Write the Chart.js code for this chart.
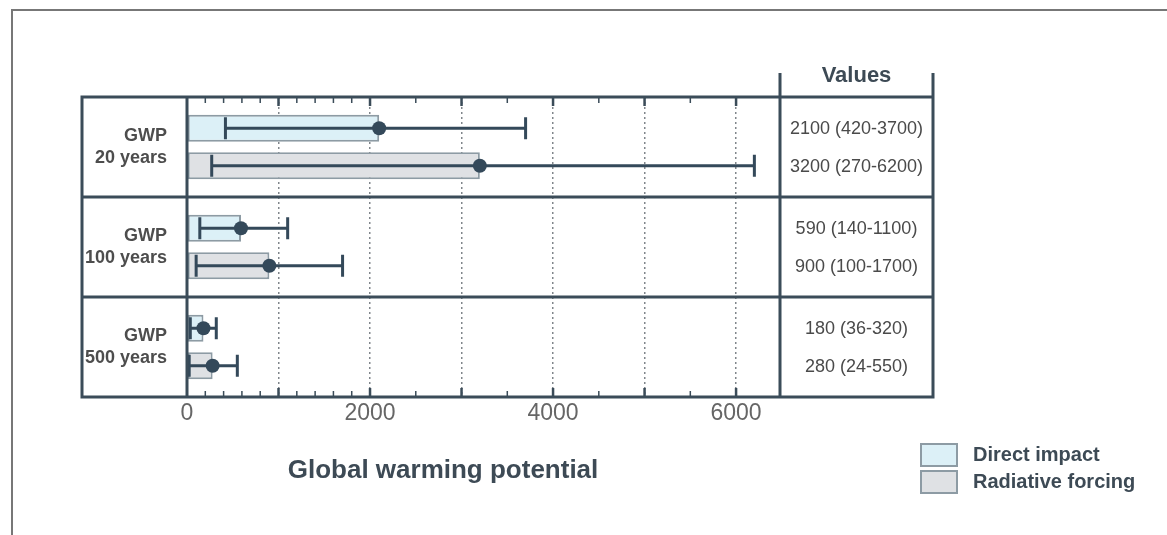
<!DOCTYPE html>
<html lang="en">
<head>
  <meta charset="UTF-8" />
  <title>Global warming potential</title>
  <script src="https://cdn.jsdelivr.net/npm/chart.js"></script>
  <style>
    html, body { margin: 0; padding: 0; background: #fff; }
    #wrap { width: 1167px; height: 535px; }
  </style>
</head>
<body>
  <div id="wrap"><canvas id="gwpChart" width="1167" height="535"></canvas></div>

  <script>
    const categories = [['GWP', '20 years'], ['GWP', '100 years'], ['GWP', '500 years']];
    const directValues = [2100, 590, 180];
    const directLow = [420, 140, 36];
    const directHigh = [3700, 1100, 320];
    const forcingValues = [3200, 900, 280];
    const forcingLow = [270, 100, 24];
    const forcingHigh = [6200, 1700, 550];
    const xTickLabels = [0, 2000, 4000, 6000];
    const majorTicks = [0, 1000, 2000, 3000, 4000, 5000, 6000];
    const minorTicks = [200, 400, 600, 800, 1200, 1400, 1600, 1800, 2500, 3500, 4500, 5500];

    const FONT = "'Liberation Sans', Arial, sans-serif";
    const ink = '#34495a';
    const lineCol = '#3b4c59';

    // error bars + dots on top of the bars
    const errorBars = {
      id: 'errorBars',
      afterDatasetsDraw(chart) {
        const { ctx, scales: { x } } = chart;
        chart.data.datasets.forEach((ds, i) => {
          chart.getDatasetMeta(i).data.forEach((bar, j) => {
            const y = bar.y;
            const x0 = x.getPixelForValue(ds.low[j]);
            const x1 = x.getPixelForValue(ds.high[j]);
            ctx.save();
            ctx.strokeStyle = ink;
            ctx.lineWidth = 3;
            ctx.beginPath();
            ctx.moveTo(x0, y); ctx.lineTo(x1, y);
            ctx.moveTo(x0, y - 11); ctx.lineTo(x0, y + 11);
            ctx.moveTo(x1, y - 11); ctx.lineTo(x1, y + 11);
            ctx.stroke();
            ctx.fillStyle = ink;
            ctx.beginPath();
            ctx.arc(bar.x, y, 7, 0, Math.PI * 2);
            ctx.fill();
            ctx.restore();
          });
        });
      }
    };

    // table frame, values column, legend, axis title
    const tableDecor = {
      id: 'tableDecor',
      afterDraw(chart) {
        const { ctx, chartArea: a, scales: { x, y } } = chart;
        const left = a.left - 105;
        const valRight = a.right + 153;
        const valMid = (a.right + valRight) / 2;
        ctx.save();

        // page frame
        ctx.strokeStyle = '#777';
        ctx.lineWidth = 2;
        ctx.beginPath();
        ctx.moveTo(12, 535); ctx.lineTo(12, 10); ctx.lineTo(1167, 10);
        ctx.stroke();

        // minor / major ticks along top and bottom edges
        ctx.strokeStyle = lineCol;
        ctx.lineWidth = 1.5;
        ctx.beginPath();
        minorTicks.forEach(v => {
          const px = x.getPixelForValue(v);
          ctx.moveTo(px, a.bottom); ctx.lineTo(px, a.bottom - 6);
          ctx.moveTo(px, a.top); ctx.lineTo(px, a.top + 6);
        });
        ctx.stroke();
        ctx.lineWidth = 2.5;
        ctx.beginPath();
        majorTicks.slice(1).forEach(v => {
          const px = x.getPixelForValue(v);
          ctx.moveTo(px, a.bottom); ctx.lineTo(px, a.bottom - 9);
          ctx.moveTo(px, a.top); ctx.lineTo(px, a.top + 9);
        });
        ctx.stroke();

        // table lines
        ctx.strokeStyle = lineCol;
        ctx.lineWidth = 3;
        ctx.beginPath();
        ctx.rect(left, a.top, valRight - left, a.bottom - a.top);
        for (let j = 0; j < categories.length - 1; j++) {
          const yy = (y.getPixelForValue(j) + y.getPixelForValue(j + 1)) / 2;
          ctx.moveTo(left, yy); ctx.lineTo(valRight, yy);
        }
        ctx.moveTo(a.left, a.top); ctx.lineTo(a.left, a.bottom);
        ctx.moveTo(a.right, a.top - 24); ctx.lineTo(a.right, a.bottom);
        ctx.moveTo(valRight, a.top - 24); ctx.lineTo(valRight, a.top);
        ctx.stroke();

        // header
        ctx.fillStyle = '#3d4a55';
        ctx.font = 'bold 22px ' + FONT;
        ctx.textAlign = 'center';
        ctx.textBaseline = 'middle';
        ctx.fillText('Values', valMid, a.top - 21);

        // values text
        ctx.fillStyle = '#4a4a4a';
        ctx.font = '18px ' + FONT;
        chart.data.datasets.forEach((ds, i) => {
          chart.getDatasetMeta(i).data.forEach((bar, j) => {
            ctx.fillText(`${ds.data[j]} (${ds.low[j]}-${ds.high[j]})`, valMid, bar.y + 1);
          });
        });

        // axis title
        ctx.fillStyle = '#3d4a55';
        ctx.font = 'bold 26px ' + FONT;
        ctx.fillText('Global warming potential', 443, 471);

        // legend
        ctx.textAlign = 'left';
        ctx.font = 'bold 20px ' + FONT;
        chart.data.datasets.forEach((ds, i) => {
          const by = 444 + i * 27;
          ctx.fillStyle = ds.backgroundColor;
          ctx.fillRect(921, by, 36, 22);
          ctx.strokeStyle = '#8d9ba4';
          ctx.lineWidth = 2;
          ctx.strokeRect(921, by, 36, 22);
          ctx.fillStyle = '#3d4a55';
          ctx.fillText(ds.label, 973, by + 11);
        });
        ctx.restore();
      }
    };

    const ctx = document.getElementById('gwpChart').getContext('2d');
    const chart = new Chart(ctx, {
      type: 'bar',
      data: {
        labels: categories,
        datasets: [
          {
            label: 'Direct impact',
            data: directValues,
            low: directLow,
            high: directHigh,
            backgroundColor: '#dcf0f7',
            borderColor: '#8d9ba4',
            borderWidth: 2,
            borderSkipped: false,
            categoryPercentage: 0.75,
            barPercentage: 0.72
          },
          {
            label: 'Radiative forcing',
            data: forcingValues,
            low: forcingLow,
            high: forcingHigh,
            backgroundColor: '#dfe1e4',
            borderColor: '#8d9ba4',
            borderWidth: 2,
            borderSkipped: false,
            categoryPercentage: 0.75,
            barPercentage: 0.72
          }
        ]
      },
      options: {
        indexAxis: 'y',
        responsive: false,
        animation: false,
        layout: { padding: { top: 97, right: 387, bottom: 0, left: 0 } },
        plugins: {
          legend: { display: false },
          tooltip: { enabled: false }
        },
        scales: {
          x: {
            min: 0,
            max: 6480,
            afterFit: s => { s.height = 138; },
            afterBuildTicks: s => { s.ticks = majorTicks.map(v => ({ value: v })); },
            border: { display: false, dash: [2, 3] },
            grid: {
              drawTicks: false,
              lineWidth: 1.5,
              color: c => (c.tick && c.tick.value === 0) ? 'rgba(0,0,0,0)' : '#80868b'
            },
            ticks: {
              autoSkip: false,
              maxRotation: 0,
              padding: 3,
              color: '#666',
              font: { family: FONT, size: 23 },
              callback: v => xTickLabels.includes(v) ? String(v) : ''
            }
          },
          y: {
            afterFit: s => { s.width = 187; },
            border: { display: false },
            grid: { display: false, drawTicks: false },
            ticks: {
              padding: 20,
              color: '#4d4d4d',
              font: { family: FONT, size: 18, weight: 'bold', lineHeight: 1.2 }
            }
          }
        }
      },
      plugins: [errorBars, tableDecor]
    });
  </script>
</body>
</html>
